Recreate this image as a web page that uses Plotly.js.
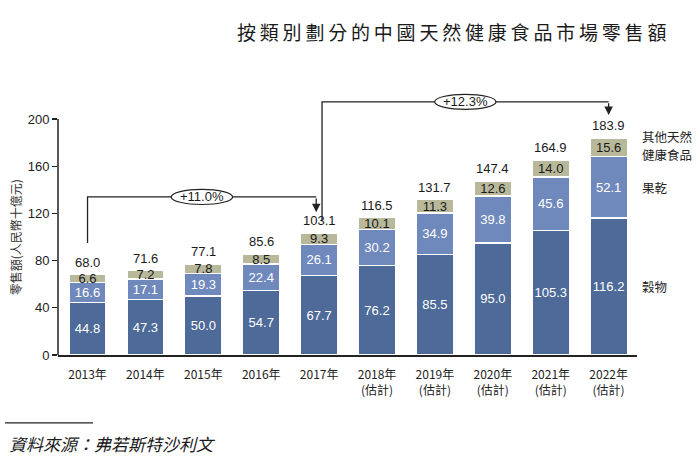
<!DOCTYPE html>
<html>
<head>
<meta charset="utf-8">
<script src="https://cdn.plot.ly/plotly-3.0.1.min.js"></script>
<style>body{margin:0;background:#fff}</style>
</head>
<body>
<div id="myDiv" style="width:700px;height:465px"></div>
<script>
// data
var years = ["2013年", "2014年", "2015年", "2016年", "2017年", "2018年", "2019年", "2020年", "2021年", "2022年"];
var estimated = [false, false, false, false, false, true, true, true, true, true];
var grains = [44.8, 47.3, 50.0, 54.7, 67.7, 76.2, 85.5, 95.0, 105.3, 116.2];
var driedFruit = [16.6, 17.1, 19.3, 22.4, 26.1, 30.2, 34.9, 39.8, 45.6, 52.1];
var otherFood = [6.6, 7.2, 7.8, 8.5, 9.3, 10.1, 11.3, 12.6, 14.0, 15.6];
var totals = [68.0, 71.6, 77.1, 85.6, 103.1, 116.5, 131.7, 147.4, 164.9, 183.9];
var seriesNames = [["穀物"], ["果乾"], ["其他天然", "健康食品"]];
var cagr = ["+11.0%", "+12.3%"];

var font = "Liberation Sans, Arial, Noto Sans CJK TC, sans-serif";
var cjk = "Noto Sans CJK TC, Liberation Sans, sans-serif";
var xs = years.map(function(y, i) { return i; });
var tickText = years.map(function(y, i) { return estimated[i] ? y + "<br>(估計)" : y; });

function barTrace(vals, color, textColor, name) {
  return {
    type: "bar", x: xs, y: vals, name: name,
    width: 0.64,
    marker: {color: color, line: {color: "#ffffff", width: 1.2}},
    text: vals.map(function(v) { return v.toFixed(1); }),
    textposition: "inside", insidetextanchor: "middle",
    textangle: 0, constraintext: "none",
    textfont: {family: font, size: 13, color: textColor},
    hoverinfo: "skip"
  };
}

var data = [
  barTrace(grains, "#4d6a99", "#ffffff", "穀物"),
  barTrace(driedFruit, "#7089bc", "#ffffff", "果乾"),
  barTrace(otherFood, "#b8b89b", "#1a1a1a", "其他")
];

// bracket positions (plot units)
var b1 = {x0: 0, x1: 3.95, yStart: 95, yTop: 134, yTip: 121};
var b2 = {x0: 4.05, x1: 9, yStart: 114.5, yTop: 214.6, yTip: 203.5};

function bracketShapes(b) {
  var mid = (b.x0 + b.x1) / 2;
  return [
    {type: "path", xref: "x", yref: "y",
     path: "M " + b.x0 + "," + b.yStart + " L " + b.x0 + "," + b.yTop + " L " + b.x1 + "," + b.yTop,
     line: {color: "#222", width: 1.3}},
    {type: "circle", xref: "x", yref: "y", x0: mid - 0.53, x1: mid + 0.53, y0: b.yTop - 6.4, y1: b.yTop + 6.4,
     fillcolor: "#ffffff", line: {color: "#222", width: 1.2}}
  ];
}

var shapes = [].concat(bracketShapes(b1), bracketShapes(b2));
// y axis line only up to 200
shapes.push({type: "line", xref: "paper", yref: "y", x0: 0, x1: 0, y0: 0, y1: 200, line: {color: "#222", width: 1.5}});
// footer rule
shapes.push({type: "line", xref: "paper", yref: "paper", x0: -0.0915, x1: 0.0605, y0: -0.235, y1: -0.235, line: {color: "#222", width: 1.2}});

var annotations = [];

// totals above each bar
totals.forEach(function(t, i) {
  annotations.push({x: i, y: t, xref: "x", yref: "y", yanchor: "bottom", yshift: 3, text: t.toFixed(1),
    showarrow: false, font: {family: font, size: 13, color: "#1a1a1a"}});
});

[b1, b2].forEach(function(b, i) {
  annotations.push({x: b.x1, y: b.yTip, ax: b.x1, ay: b.yTop, xref: "x", yref: "y", axref: "x", ayref: "y",
    text: "", showarrow: true, arrowhead: 2, arrowsize: 1.3, arrowwidth: 1.3, arrowcolor: "#222"});
  annotations.push({x: (b.x0 + b.x1) / 2, y: b.yTop, xref: "x", yref: "y", yanchor: "middle", text: cagr[i],
    showarrow: false, font: {family: font, size: 13, color: "#1a1a1a"}});
});

// series labels on the right, lined up with the 2022 segments
var last = years.length - 1;
var mids = [grains[last] / 2, grains[last] + driedFruit[last] / 2, grains[last] + driedFruit[last] + otherFood[last] / 2];
mids.forEach(function(m, i) {
  var lines = seriesNames[i];
  lines.forEach(function(line, k) {
    var shift = lines.length == 1 ? 0 : (k == 0 ? 11 : -7);
    annotations.push({x: 1.005, xref: "paper", y: m, yref: "y", yshift: shift, xanchor: "left", yanchor: "middle",
      text: line, showarrow: false, font: {family: cjk, size: 12.5, color: "#222"}});
  });
});

annotations.push({x: -0.074, xref: "paper", y: 100, yref: "y", xanchor: "center", yanchor: "middle", textangle: -90,
  text: "零售額(人民幣十億元)", showarrow: false, font: {family: cjk, size: 12, color: "#333"}});
annotations.push({x: -0.088, xref: "paper", y: -0.3045, yref: "paper", xanchor: "left", yanchor: "middle",
  text: "資料來源：弗若斯特沙利文",
  showarrow: false, font: {family: cjk, size: 17, color: "#1a1a1a", style: "italic"}});

var layout = {
  width: 700, height: 465,
  margin: {t: 66, b: 110, l: 58, r: 63},
  paper_bgcolor: "#ffffff", plot_bgcolor: "#ffffff",
  barmode: "stack", bargap: 0.36,
  showlegend: false,
  title: {text: "按類別劃分的中國天然健康食品市場零售額".split("").join("\u2009"),
    x: 0.68, xref: "paper", xanchor: "center", y: 0.929, yanchor: "middle",
    font: {family: cjk, size: 19, color: "#1a1a1a"}},
  xaxis: {range: [-0.51, 9.49], tickvals: xs, ticktext: tickText, showgrid: false, zeroline: false,
    showline: true, linecolor: "#222", linewidth: 1.5, ticks: "outside", ticklen: 8, tickcolor: "rgba(0,0,0,0)",
    tickfont: {family: cjk, size: 12, color: "#222"}, fixedrange: true},
  yaxis: {range: [0, 245], tickvals: [0, 40, 80, 120, 160, 200], showgrid: false, zeroline: false,
    showline: false, ticks: "outside", ticklen: 5, tickwidth: 1.3, tickcolor: "#222",
    tickfont: {family: font, size: 13, color: "#222"}, fixedrange: true},
  shapes: shapes,
  annotations: annotations
};

Plotly.newPlot("myDiv", data, layout, {displayModeBar: false, staticPlot: true});
</script>
</body>
</html>
